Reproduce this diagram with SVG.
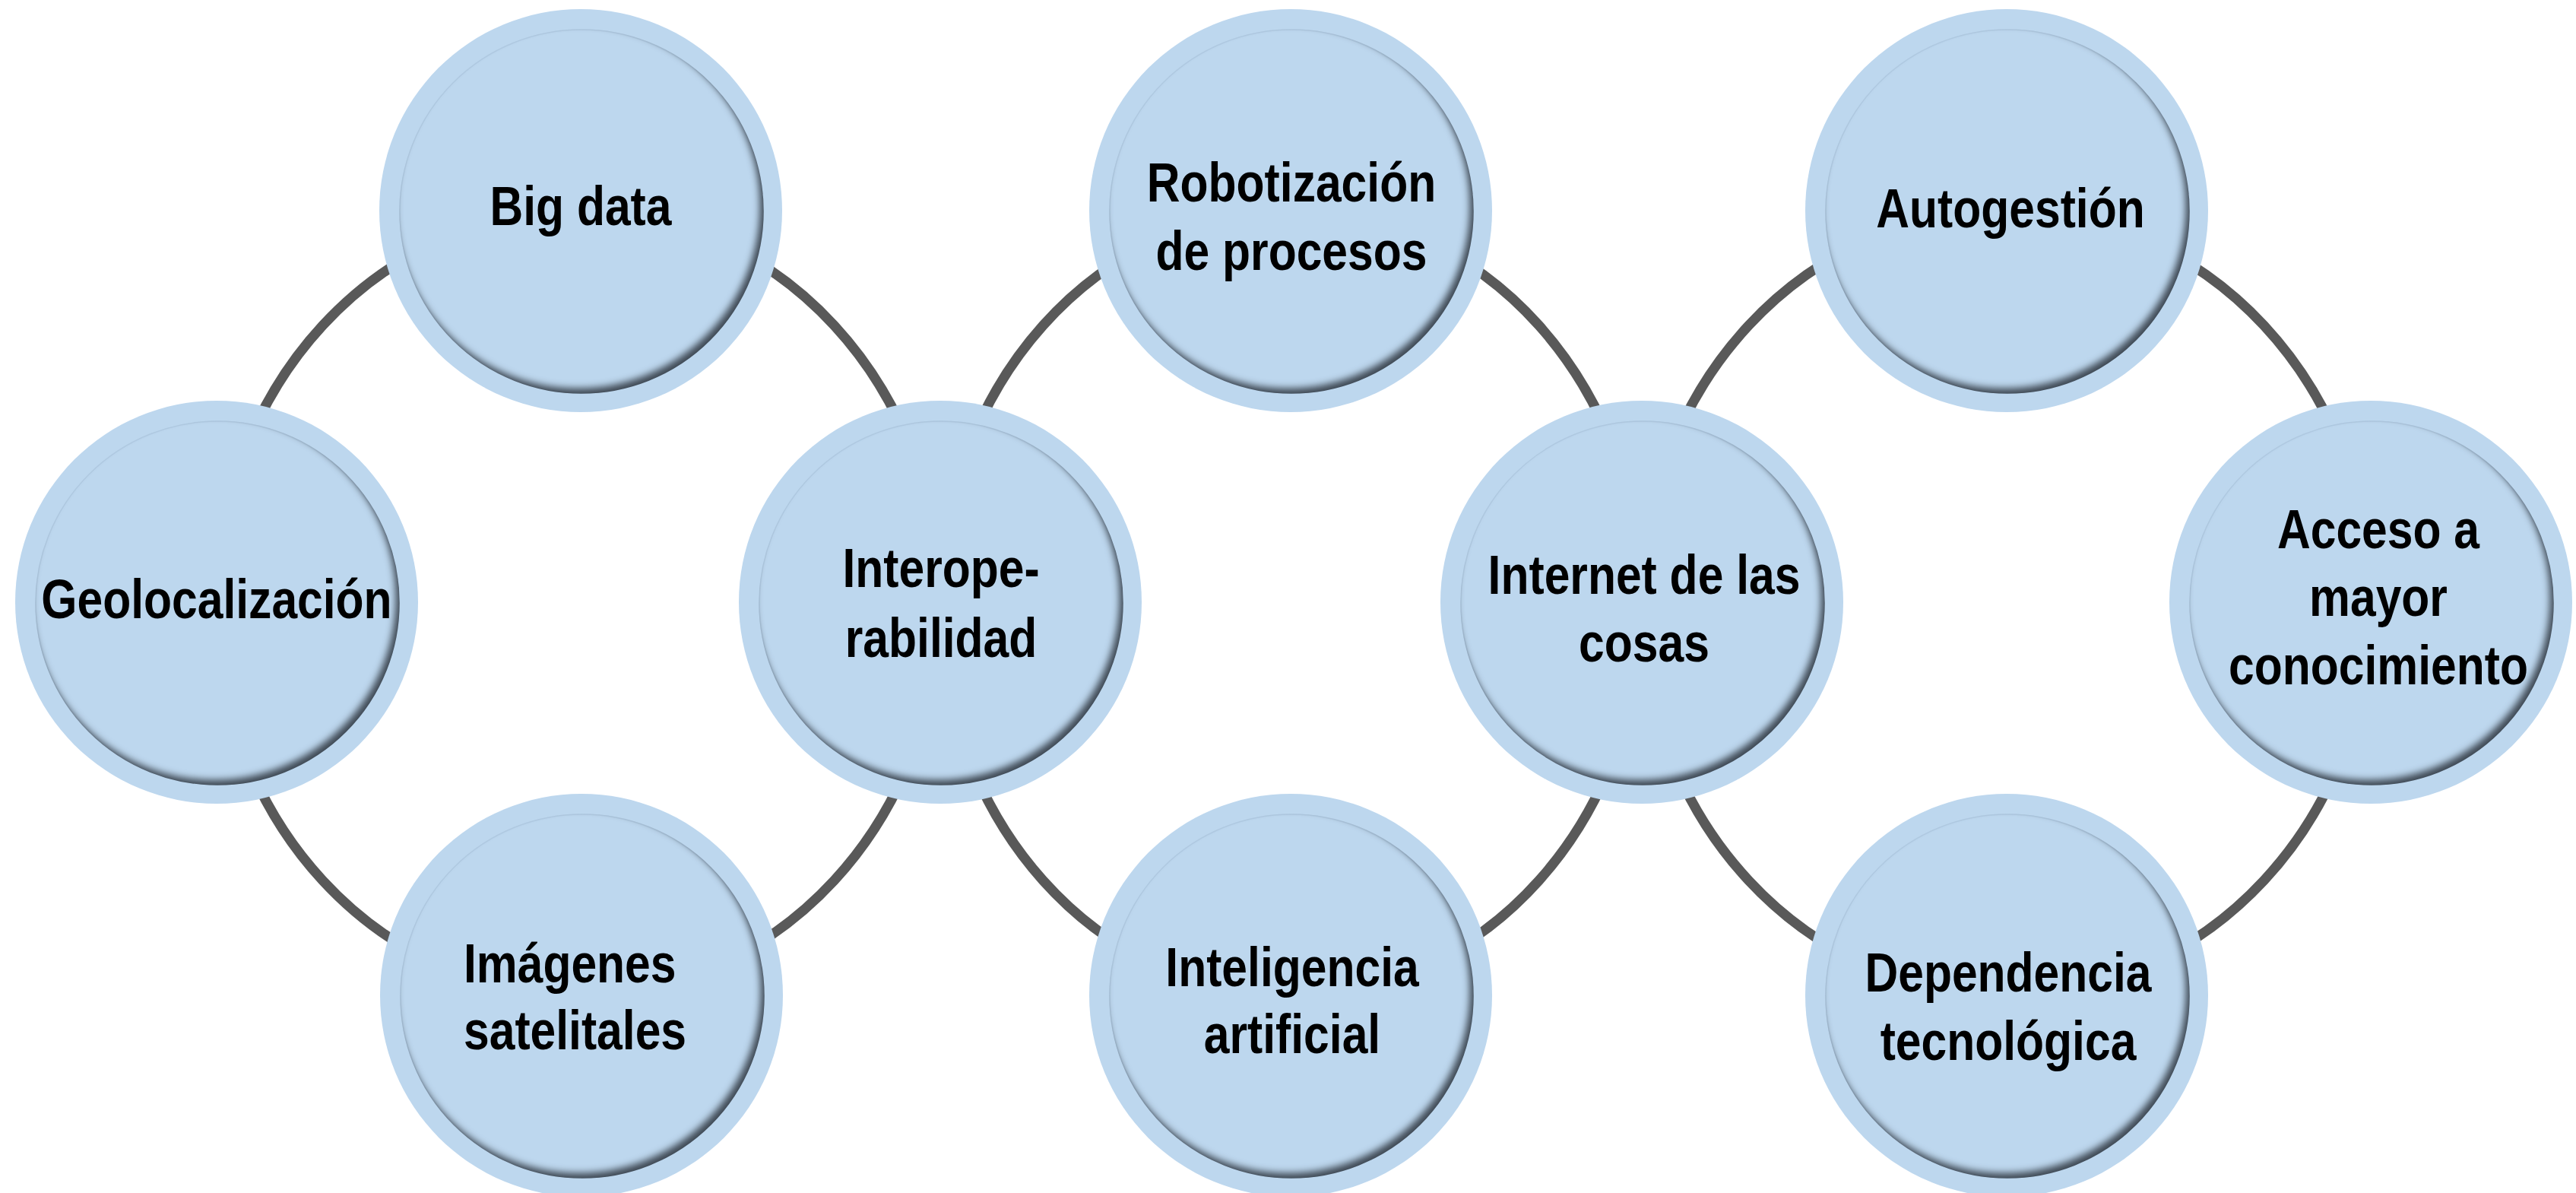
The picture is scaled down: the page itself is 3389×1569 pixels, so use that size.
<svg xmlns="http://www.w3.org/2000/svg" width="3389" height="1569" viewBox="0 0 3389 1569">
<style>
.outer{fill:#BDD7EE}
.inner{fill:#BDD7EE;stroke:#B2CCE4;stroke-width:1.5;filter:url(#inset)}
.link{fill:none;stroke:#595959;stroke-width:13}
.t{font-family:"Liberation Sans",Arial,Helvetica,sans-serif;font-weight:700;font-size:73px;fill:#000;text-anchor:middle}
.ts{text-anchor:start}
</style>
<defs>
<filter id="inset" x="-15%" y="-15%" width="130%" height="130%" color-interpolation-filters="sRGB">
<feComponentTransfer in="SourceAlpha" result="inv"><feFuncA type="table" tableValues="1 0"/></feComponentTransfer>
<feOffset in="inv" dx="-5" dy="-7" result="off"/>
<feGaussianBlur in="off" stdDeviation="5" result="blur"/>
<feFlood flood-color="#39424d" flood-opacity="0.95"/>
<feComposite in2="blur" operator="in" result="shadow"/>
<feComposite in="shadow" in2="SourceAlpha" operator="in" result="innerShadow"/>
<feMerge><feMergeNode in="SourceGraphic"/><feMergeNode in="innerShadow"/></feMerge>
</filter>
</defs>
<rect width="3389" height="1569" fill="#ffffff"/>
<g id="connectors">
<path class="link" d="M285,793 A476,516 0 0 1 761,277"/>
<path class="link" d="M761,277 A476,516 0 0 1 1237,793"/>
<path class="link" d="M1237,793 A476,516 0 0 1 761,1309"/>
<path class="link" d="M761,1309 A476,516 0 0 1 285,793"/>
<path class="link" d="M1237,793 A461.5,516 0 0 1 1698.5,277"/>
<path class="link" d="M1698.5,277 A461.5,516 0 0 1 2160,793"/>
<path class="link" d="M2160,793 A461.5,516 0 0 1 1698.5,1309"/>
<path class="link" d="M1698.5,1309 A461.5,516 0 0 1 1237,793"/>
<path class="link" d="M2160,793 A479.5,516 0 0 1 2639.5,277"/>
<path class="link" d="M2639.5,277 A479.5,516 0 0 1 3119,793"/>
<path class="link" d="M3119,793 A479.5,516 0 0 1 2639.5,1309"/>
<path class="link" d="M2639.5,1309 A479.5,516 0 0 1 2160,793"/>
</g>
<g id="geolocalizacion">
<circle class="outer" cx="285" cy="792" r="265"/>
<circle class="inner" cx="286" cy="793" r="239"/>
<g transform="translate(285 0) scale(0.83 1)"><text class="t" x="0" y="813">Geolocalización</text></g>
</g>
<g id="big-data">
<circle class="outer" cx="764" cy="277" r="265"/>
<circle class="inner" cx="765" cy="278" r="239"/>
<g transform="translate(764 0) scale(0.83 1)"><text class="t" x="0" y="296">Big data</text></g>
</g>
<g id="imagenes-satelitales">
<circle class="outer" cx="765" cy="1309" r="265"/>
<circle class="inner" cx="766" cy="1310" r="239"/>
<g transform="translate(610 0) scale(0.83 1)"><text class="t ts" x="0" y="1292">Imágenes</text><text class="t ts" x="0" y="1380">satelitales</text></g>
</g>
<g id="interoperabilidad">
<circle class="outer" cx="1237" cy="792" r="265"/>
<circle class="inner" cx="1238" cy="793" r="239"/>
<g transform="translate(1238 0) scale(0.83 1)"><text class="t" x="0" y="772">Interope-</text><text class="t" x="0" y="864">rabilidad</text></g>
</g>
<g id="robotizacion">
<circle class="outer" cx="1698" cy="277" r="265"/>
<circle class="inner" cx="1699" cy="278" r="239"/>
<g transform="translate(1699 0) scale(0.83 1)"><text class="t" x="0" y="265">Robotización</text><text class="t" x="0" y="355">de procesos</text></g>
</g>
<g id="inteligencia-artificial">
<circle class="outer" cx="1698" cy="1309" r="265"/>
<circle class="inner" cx="1699" cy="1310" r="239"/>
<g transform="translate(1700 0) scale(0.83 1)"><text class="t" x="0" y="1297">Inteligencia</text><text class="t" x="0" y="1385">artificial</text></g>
</g>
<g id="internet-de-las-cosas">
<circle class="outer" cx="2160" cy="792" r="265"/>
<circle class="inner" cx="2161" cy="793" r="239"/>
<g transform="translate(2163 0) scale(0.83 1)"><text class="t" x="0" y="781">Internet de las</text><text class="t" x="0" y="870">cosas</text></g>
</g>
<g id="autogestion">
<circle class="outer" cx="2640" cy="277" r="265"/>
<circle class="inner" cx="2641" cy="278" r="239"/>
<g transform="translate(2645 0) scale(0.83 1)"><text class="t" x="0" y="299">Autogestión</text></g>
</g>
<g id="acceso-conocimiento">
<circle class="outer" cx="3119" cy="792" r="265"/>
<circle class="inner" cx="3120" cy="793" r="239"/>
<g transform="translate(3129 0) scale(0.83 1)"><text class="t" x="0" y="721">Acceso a</text><text class="t" x="0" y="810">mayor</text><text class="t" x="0" y="900">conocimiento</text></g>
</g>
<g id="dependencia-tecnologica">
<circle class="outer" cx="2640" cy="1309" r="265"/>
<circle class="inner" cx="2641" cy="1310" r="239"/>
<g transform="translate(2642 0) scale(0.83 1)"><text class="t" x="0" y="1304">Dependencia</text><text class="t" x="0" y="1394">tecnológica</text></g>
</g>
</svg>
